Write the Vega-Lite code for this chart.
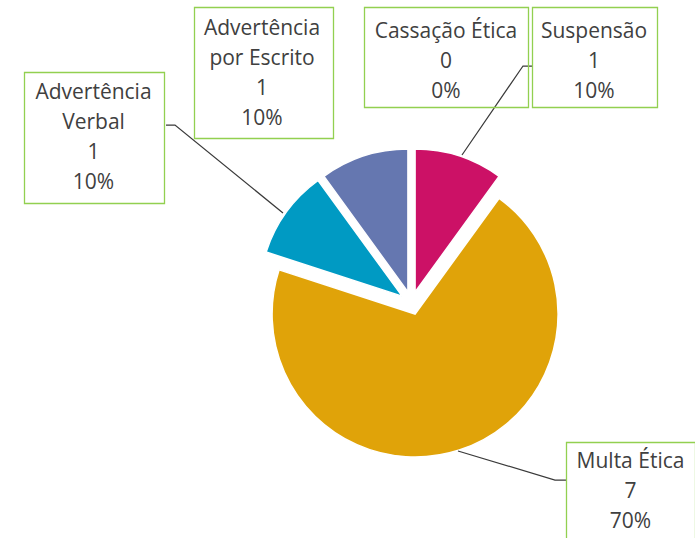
{
  "$schema": "https://vega.github.io/schema/vega-lite/v6.json",
  "width": 567,
  "height": 430,
  "autosize": {"type": "none"},
  "padding": {"left": 128, "top": 88, "right": 0, "bottom": 20},
  "background": "white",
  "config": {"view": {"stroke": null}},
  "data": {
    "values": [
      {"categoria": "Cassação Ética", "quantidade": 0},
      {"categoria": "Suspensão", "quantidade": 1},
      {"categoria": "Multa Ética", "quantidade": 7},
      {"categoria": "Advertência Verbal", "quantidade": 1},
      {"categoria": "Advertência por Escrito", "quantidade": 1}
    ]
  },
  "transform": [
    {"window": [{"op": "sum", "field": "quantidade", "as": "acum"}], "frame": [null, 0]},
    {"joinaggregate": [{"op": "sum", "field": "quantidade", "as": "total"}]},
    {"calculate": "2*PI*(datum.acum - datum.quantidade)/datum.total", "as": "ini"},
    {"calculate": "2*PI*datum.acum/datum.total", "as": "fim"},
    {"calculate": "(datum.ini + datum.fim)/2", "as": "meio"},
    {"calculate": "datum.quantidade/datum.total", "as": "pct"},
    {"calculate": "11.6*sin(datum.meio)", "as": "ex"},
    {"calculate": "-11.6*cos(datum.meio)", "as": "ey"},
    {"calculate": "replace(datum.categoria, 'Advertência ', 'Advertência\\n') + '\\n' + datum.quantidade + '\\n' + format(datum.pct, '.0%')", "as": "rotulo"},
    {"calculate": "datum.categoria == 'Cassação Ética' ? 34.5 : datum.categoria == 'Suspensão' ? 182.5 : datum.categoria == 'Multa Ética' ? 219 : datum.categoria == 'Advertência Verbal' ? -318 : -149.5", "as": "lx"},
    {"calculate": "datum.categoria == 'Cassação Ética' ? -271 : datum.categoria == 'Suspensão' ? -271 : datum.categoria == 'Multa Ética' ? 159 : datum.categoria == 'Advertência Verbal' ? -210 : -274", "as": "ly"},
    {"calculate": "datum.categoria == 'Cassação Ética' ? 'M-47,-295.5H117V-195.5H-47Z' : datum.categoria == 'Suspensão' ? 'M121,-295.5H246V-195.5H121Z' : datum.categoria == 'Multa Ética' ? 'M155,139.5H284V239.5H155Z' : datum.categoria == 'Advertência Verbal' ? 'M-387,-230.5H-247V-99.5H-387Z' : 'M-217,-295.5H-78V-164.5H-217Z'", "as": "caixa"},
    {"calculate": "datum.categoria == 'Suspensão' ? 'M50.5,-148L111.5,-237H120.5' : datum.categoria == 'Multa Ética' ? 'M46.5,148L143.5,177H154.5' : datum.categoria == 'Advertência Verbal' ? 'M-128.5,-90L-236.5,-178H-245.5' : ''", "as": "linha"}
  ],
  "layer": [
    {
      "transform": [{"filter": "datum.quantidade > 0"}],
      "mark": {"type": "arc", "outerRadius": 143, "stroke": "white", "strokeWidth": 1.5},
      "encoding": {
        "theta": {"field": "ini", "type": "quantitative", "scale": null},
        "theta2": {"field": "fim"},
        "xOffset": {"field": "ex", "type": "quantitative", "scale": null},
        "yOffset": {"field": "ey", "type": "quantitative", "scale": null},
        "color": {
          "field": "categoria",
          "type": "nominal",
          "scale": {
            "domain": ["Cassação Ética", "Suspensão", "Multa Ética", "Advertência Verbal", "Advertência por Escrito"],
            "range": ["#7F7F7F", "#CC1166", "#E0A309", "#009AC3", "#6577B0"]
          },
          "legend": null
        }
      }
    },
    {
      "transform": [{"filter": "datum.linha != ''"}],
      "mark": {"type": "point", "size": 4, "filled": false, "stroke": "#3A3A3A", "strokeWidth": 1.25, "opacity": 1},
      "encoding": {
        "shape": {"field": "linha", "type": "nominal", "scale": null}
      }
    },
    {
      "mark": {"type": "point", "size": 4, "filled": false, "stroke": "#92D050", "strokeWidth": 1.3, "opacity": 1},
      "encoding": {
        "shape": {"field": "caixa", "type": "nominal", "scale": null}
      }
    },
    {
      "mark": {"type": "text", "font": "Open Sans", "fontSize": 21, "fill": "#404040", "lineHeight": 30, "lineBreak": "\n", "align": "center", "baseline": "middle"},
      "encoding": {
        "text": {"field": "rotulo", "type": "nominal"},
        "xOffset": {"field": "lx", "type": "quantitative", "scale": null},
        "yOffset": {"field": "ly", "type": "quantitative", "scale": null}
      }
    }
  ]
}
